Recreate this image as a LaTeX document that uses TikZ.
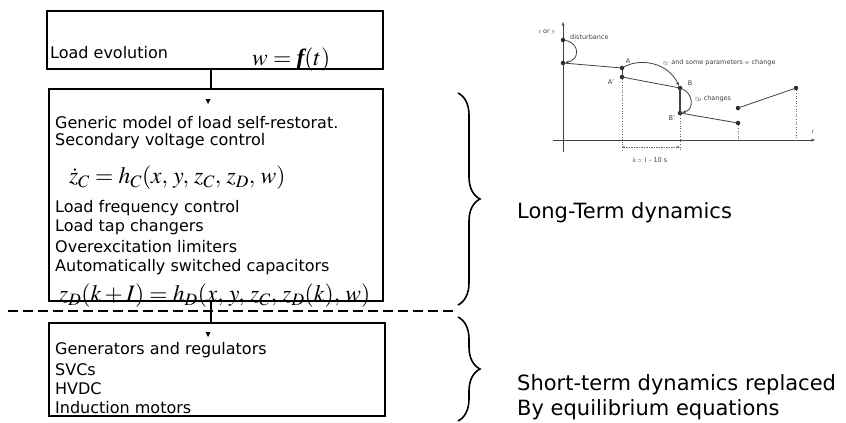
\documentclass[tikz,border=0pt]{standalone}
\usepackage{mathptmx}
\usepackage[no-math]{fontspec}
\setmainfont{DejaVu Sans}
\newfontfamily\tnr{Liberation Serif}
\usetikzlibrary{decorations.pathreplacing,arrows.meta}
\tikzset{
  box/.style={draw, line width=1.6pt, fill=white, inner sep=0pt},
  lbl/.style={anchor=west, inner sep=0pt, font=\fontsize{16}{18}\selectfont},
  eq/.style={anchor=west, inner sep=0pt, font=\fontsize{23.5}{26}\selectfont},
  big/.style={anchor=west, inner sep=0pt, font=\fontsize{21}{25}\selectfont},
  conn/.style={line width=1.6pt},
  tip/.style={fill=black},
  brc/.style={decorate, decoration={brace, amplitude=22pt, aspect=0.5}, line width=1.6pt},
  pl/.style={black!75, line width=0.8pt},
  pdot/.style={circle, fill=black!85, inner sep=0pt, minimum size=4.5pt},
  pdash/.style={black!60, line width=0.6pt, dotted},
  ptxt/.style={inner sep=0pt, font=\fontsize{6.5}{8}\selectfont, text=black!75}
}
\begin{document}
\begin{tikzpicture}[x=1pt,y=-1pt]
\useasboundingbox (0,0) rectangle (846,423);
% boxes
\node[box, minimum width=336pt, minimum height=58pt] (b1) at (215,40) {};
\node[box, minimum width=334pt, minimum height=212pt] (b2) at (216,195) {};
\node[box, minimum width=336pt, minimum height=93pt] (b3) at (217,369.5) {};
% box 1 text
\node[lbl] (t1) at (50,53) {Load evolution};
\node[eq] (e1) at (252,60) {$w = \mbox{\tnr\bfseries\itshape f}(t)$};
% box 2 text
\node[lbl] (t2) at (55,123) {Generic model of load self-restorat.};
\node[lbl] (t3) at (55,141) {Secondary voltage control};
\node[eq] (e2) at (69,178) {$\dot{z}_C = h_C(x,\, y,\, z_C,\, z_D,\, w)$};
\node[lbl] (t4) at (55,208) {Load frequency control};
\node[lbl] (t5) at (55,227) {Load tap changers};
\node[lbl] (t6) at (55,247) {Overexcitation limiters};
\node[lbl] (t7) at (55,267) {Automatically switched capacitors};
\node[eq] (e3) at (59,296) {$z_D(k+I) = h_D(x,\, y,\, z_C,\, z_D(k),\, w)$};
% box 3 text
\node[lbl] (t8) at (55,350) {Generators and regulators};
\node[lbl] (t9) at (55,370) {SVCs};
\node[lbl] (t10) at (55,389) {HVDC};
\node[lbl] (t11) at (55,408) {Induction motors};
% connectors
\coordinate (cx) at (211,0);
\draw[conn] (b1.south -| cx) -- (b2.north -| cx);
\fill[tip] (205.5,99) -- (210.5,99) -- (208,104) -- cycle;
\draw[conn] (b2.south -| cx) -- (b3.north -| cx);
\fill[tip] (205.5,332) -- (210.5,332) -- (208,337) -- cycle;
% dashed separator
\coordinate (dl) at (8,311);
\coordinate (dr) at (453,311);
\draw[line width=1.6pt, dash pattern=on 10pt off 5pt] (dl) -- (dr);
% braces
\coordinate (br1a) at (458,93);
\coordinate (br1b) at (458,305);
\coordinate (br2a) at (458,317);
\coordinate (br2b) at (458,421);
\draw[brc] (br1a) -- (br1b);
\draw[brc] (br2a) -- (br2b);
\node[big] (lt) at (517,213) {Long-Term dynamics};
\node[big] (st1) at (517,385) {Short-term dynamics replaced};
\node[big] (st2) at (517,410) {By equilibrium equations};
% ---- small plot ----
\coordinate (yax0) at (563,152);
\coordinate (yax1) at (563,22);
\coordinate (xax0) at (553,140);
\coordinate (xax1) at (815,140);
\draw[pl, -{Stealth[length=4pt,width=3pt]}] (yax0) -- (yax1);
\draw[pl, -{Stealth[length=4pt,width=3pt]}] (xax0) -- (xax1);
\node[ptxt, anchor=east] (vy) at (555,32) {$v$ or $y$};
\node[ptxt] (tt) at (813,132) {$t$};
\node[pdot] (d1) at (563,40) {};
\node[pdot] (d2) at (563,63) {};
\node[pdot] (A) at (622,68) {};
\node[pdot] (Ap) at (622,77) {};
\node[pdot] (B) at (680,88) {};
\node[pdot] (Bp) at (680,113) {};
\node[pdot] (C) at (738,123) {};
\node[pdot] (D) at (738,108) {};
\node[pdot] (E) at (796,88) {};
\draw[pl] (d2.center) -- (A.center);
\draw[pl] (Ap.center) -- (B.center);
\draw[pl, line width=1.2pt] (B.center) -- (Bp.center);
\draw[pl] (Bp.center) -- (C.center);
\draw[pl] (D.center) -- (E.center);
\draw[pl] (A.center) -- (Ap.center);
\draw[pl, -{Stealth[length=3.5pt,width=3pt]}] (d1) .. controls (580,43) and (580,60) .. (d2);
\draw[pl, -{Stealth[length=3.5pt,width=3pt]}] (A) .. controls (640,58) and (668,62) .. (B);
\draw[pl, -{Stealth[length=3.5pt,width=3pt]}] (B) .. controls (694,94) and (694,110) .. (Bp);
\coordinate (hx1) at (622,150);
\coordinate (hx2) at (680,150);
\draw[pdash] (Ap) -- (Ap |- hx1);
\draw[pdash] (Bp) -- (Bp |- hx2);
\draw[pdash] (C) -- (C |- xax0);
\draw[pdash] (E) -- (E |- xax0);
\draw[black!60, line width=0.6pt, dash pattern=on 1.5pt off 1pt, {Stealth[length=3pt,width=2.5pt]}-{Stealth[length=3pt,width=2.5pt]}] (622,147) -- (680,147);
\node[ptxt, anchor=west] (dist) at (570,37) {disturbance};
\node[ptxt] (lA) at (628,61) {A};
\node[ptxt] (lAp) at (611,82) {A'};
\node[ptxt] (lB) at (690,83) {B};
\node[ptxt] (lBp) at (672,118) {B'};
\node[ptxt, anchor=west] (lzc) at (663,63) {$z_C$ and some parameters $w$ change};
\node[ptxt, anchor=west] (lzd) at (695,99) {$z_D$ changes};
\node[ptxt] (lh) at (650,160) {$h\simeq 1$ - 10 s};
\end{tikzpicture}
\end{document}
